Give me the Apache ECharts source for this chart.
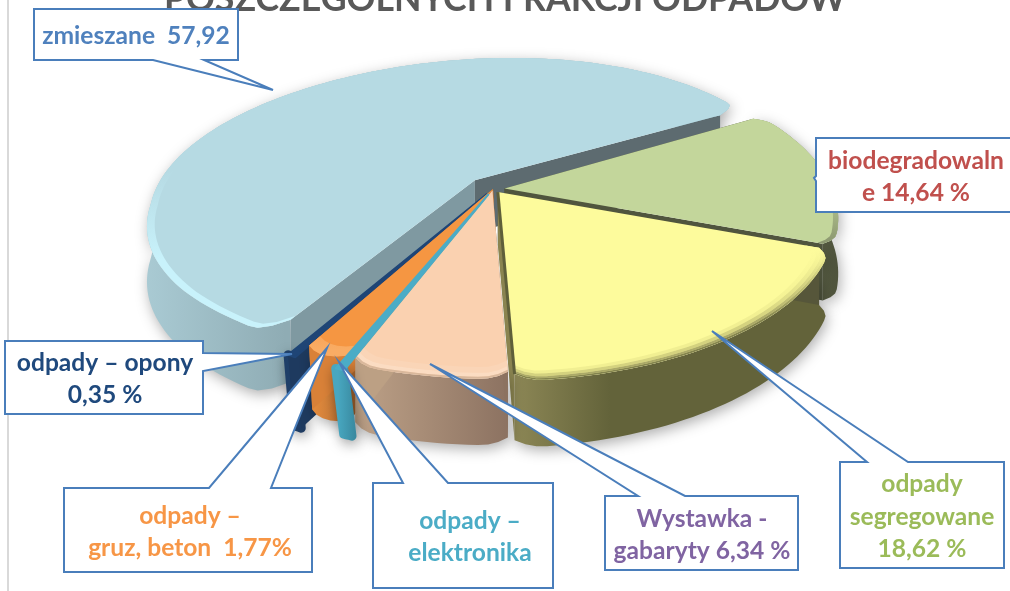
<!DOCTYPE html>
<html><head><meta charset="utf-8">
<style>html,body{margin:0;padding:0;background:#fff}#c{width:1010px;height:591px}</style>
<script src="https://cdn.jsdelivr.net/npm/echarts@6/dist/echarts.min.js"></script>
</head><body><div id="c"></div>
<script>
const titleText = 'POSZCZEGÓLNYCH FRAKCJI ODPADÓW';
const categories = ['zmieszane','biodegradowalne','odpady segregowane','Wystawka - gabaryty','odpady – elektronika','odpady – gruz, beton','odpady – opony'];
const values = [57.92,14.64,18.62,6.34,0.36,1.77,0.35];
const labelTexts = ['zmieszane  57,92','biodegradowaln\ne 14,64 %','odpady\nsegregowane\n18,62 %','Wystawka -\ngabaryty 6,34 %','odpady –\nelektronika','odpady –\ngruz, beton  1,77%','odpady – opony\n0,35 %'];

// projection of the tilted disc
const CX=493, CY=189, RX=328, RY=150, P=0.2, DEPTH=53, START=240.5;
const styles = [
 {e:.085,z:1,sk:38,lx:.03,top:'#B6DAE3',cutA:'#7F99A1',cutB:'#5D6B70',wall:[147,'#A9CAD3',285,'#8FACB4'],rim:[[.978,1,'#C8F2FB']],rimY:[170,260],corner:.08},
 {e:.035,z:2,sk:15,top:'#C3D69B',cutA:'#50553E',cutB:'#50553E',wall:[800,'#5A5F44',840,'#4E533C'],rim:[[.985,1,'#8E9A72']],rimY:[180,240],corner:.03},
 {e:.025,z:3,sk:0,top:'#FDFB9C',cutA:'#56563A',cutB:'#8A8450',wall:[505,'#908A58',610,'#63633A'],rim:[[.96,.973,'#F1EF92'],[.973,.985,'#D4D27F'],[.985,.993,'#ABA968'],[.993,1,'#84844F']],rimY:[250,320],corner:.03,edge:['#5F5F3A',3]},
 {e:.01,z:6,sk:0,top:'#FAD1B0',cutA:'#8C7260',cutB:'#BCA084',wall:[350,'#BFA389',505,'#8D7362'],rim:[[.95,.975,'#FAD5B7'],[.975,.992,'#FBDCC2'],[.992,1,'#D9B89C']],rimY:[300,350],corner:.03},
 {e:.04,z:7,sk:0,slant:8,top:'#4BACC6',noCut:true,wall:[338,'#48A7C0',358,'#37859B'],rim:[],rimY:[0,1],corner:0,stroke:9},
 {e:0,z:5,sk:0,slant:3,top:'#F59642',cutA:'#B96F31',cutB:'#D98138',wall:[312,'#E58C3D',355,'#AE6A31'],rim:[[.95,1,'#F9AC64']],rimY:[300,350],corner:.02},
 {e:.04,z:4,sk:0,depth:58,slant:6,top:'#1F4576',cutA:'#1E3A5F',cutB:'#1E3A5F',wall:[290,'#1F3F68',320,'#1D3557'],rim:[],rimY:[0,1],corner:0,stroke:9}
];
// callout boxes: outline points, text centre
const callouts = [
 {pts:[[34,9],[238,9],[238,60],[204,60],[273,90],[153,60],[34,60]],x:136,y:36,color:'#4F81BD'},
 {pts:[[816,138],[1014,138],[1014,212],[816,212],[816,181],[814,178],[816,176]],x:916,y:177,color:'#C0504D'},
 {pts:[[840,462],[867,462],[712,331],[908,462],[1004,462],[1004,568],[840,568]],x:922,y:517,color:'#9BBB59'},
 {pts:[[605,496],[638,496],[430,364],[685,496],[798,496],[798,570],[605,570]],x:702,y:535,color:'#8064A2'},
 {pts:[[373,483],[403,483],[339,362],[448,483],[553,483],[553,588],[373,588]],x:470,y:537,color:'#4BACC6'},
 {pts:[[64,488],[209,488],[327,348],[271,488],[312,488],[312,572],[64,572]],x:190,y:532,color:'#F79646'},
 {pts:[[5,341],[203,341],[203,353],[292,354],[203,371],[203,414],[5,414]],x:105,y:379,color:'#1F497D'}
];

function project(u,v,st){
  if(u<0&&st.lx) u*=1-st.lx*Math.max(0,Math.min(1,(v+.6)/.5));
  const s=1/(1+P*v);
  return [CX+(RX*u+st.sk*v*(1+v)/2)*s,CY-RY*v*s,s];
}
const total=values.reduce((a,b)=>a+b,0);
function angles(i){let a=START;for(let k=0;k<i;k++)a-=values[k]/total*360;return [a,a-values[i]/total*360];}
function arc(i,a0,a1,r,corner){
  const st=styles[i],mid=(a0+a1)/2*Math.PI/180;
  const ex=st.e*Math.cos(mid),ey=st.e*Math.sin(mid);
  const n=Math.max(3,Math.ceil(Math.abs(a0-a1)/1.5));const out=[];
  const span=Math.min(4,Math.abs(a0-a1)/2);
  for(let k=0;k<=n;k++){
    const a=a0+(a1-a0)*k/n,d=Math.min(Math.abs(a-a0),Math.abs(a-a1));
    let rr=r; if(corner&&d<span){const t=1-d/span;rr=r*(1-corner*t*t);}
    const t=a*Math.PI/180;out.push(project(ex+rr*Math.cos(t),ey+rr*Math.sin(t),st));
  }
  return {pts:out,apex:project(ex,ey,st)};
}
const xy=p=>[p[0],p[1]];
function renderItem(params,api){
  const i=params.dataIndex; api.value(0);
  const [a0,a1]=angles(i),st=styles[i],ch=[];
  const dn=p=>[p[0]+(st.slant||0),p[1]+(st.depth||DEPTH)*p[2]];
  const A=arc(i,a0,a1,1,st.corner),pts=A.pts,ap=A.apex;
  const z=st.z*10, sw=st.stroke||0;
  const grad=new echarts.graphic.LinearGradient(st.wall[0],0,st.wall[2],0,[{offset:0,color:st.wall[1]},{offset:1,color:st.wall[3]}],true);
  // outer wall
  ch.push({type:'polygon',z2:z,shape:{points:pts.map(xy).concat(pts.slice().reverse().map(dn))},
    style:{fill:grad,stroke:sw?grad:null,lineWidth:sw,lineJoin:'round',shadowColor:'rgba(0,0,0,0.32)',shadowBlur:14,shadowOffsetY:4,shadowOffsetX:2}});
  // cut faces
  const f=pts[0],l=pts[pts.length-1];
  if(!st.noCut){
    ch.push({type:'polygon',z2:z+1,shape:{points:[xy(ap),xy(f),dn(f),dn(ap)]},style:{fill:st.cutA}});
    ch.push({type:'polygon',z2:z+1,shape:{points:[xy(ap),xy(l),dn(l),dn(ap)]},style:{fill:st.cutB}});
  }
  // top
  ch.push({type:'polygon',z2:z+2,shape:{points:[xy(ap)].concat(pts.map(xy))},style:{fill:st.top,stroke:sw?st.top:null,lineWidth:sw?2:0,lineJoin:'round'}});
  // bevel bands
  st.rim.forEach((b,k)=>{
    const o=arc(i,a0,a1,b[1],st.corner).pts,n=arc(i,a0,a1,b[0],st.corner).pts;
    const g=new echarts.graphic.LinearGradient(0,st.rimY[0],0,st.rimY[1],[{offset:0,color:st.top},{offset:1,color:b[2]}],true);
    ch.push({type:'polygon',z2:z+3+k,shape:{points:o.map(xy).concat(n.slice().reverse().map(xy))},style:{fill:g}});
  });
  if(st.edge) ch.push({type:'polyline',z2:65,shape:{points:[xy(ap),xy(l)]},style:{fill:null,stroke:st.edge[0],lineWidth:st.edge[1]}});
  return {type:'group',children:ch};
}
const graphics=[{type:'line',z:50,shape:{x1:8,y1:0,x2:8,y2:591},style:{stroke:'#D9D9D9',lineWidth:2}}];
callouts.forEach((c,i)=>{
  graphics.push({type:'polygon',z:100,shape:{points:c.pts},style:{fill:'#fff',stroke:'#4A7EBB',lineWidth:2}});
  graphics.push({type:'text',z:101,x:c.x,y:c.y,style:{text:labelTexts[i],fill:c.color,font:'bold 24.6px Lato',textAlign:'center',textVerticalAlign:'middle',lineHeight:32.5}});
});
const chart=echarts.init(document.getElementById('c'),null,{renderer:'canvas'});
chart.setOption({
  animation:false,backgroundColor:'#fff',
  title:{text:titleText,left:'center',top:-24,textStyle:{color:'#595959',fontSize:35.7,fontWeight:'bold',fontFamily:'Lato'}},
  series:[{type:'custom',coordinateSystem:'none',renderItem,clip:false,silent:true,
    data:values.map((v,i)=>({name:categories[i],value:[v]}))}],
  graphic:graphics
});
</script></body></html>
